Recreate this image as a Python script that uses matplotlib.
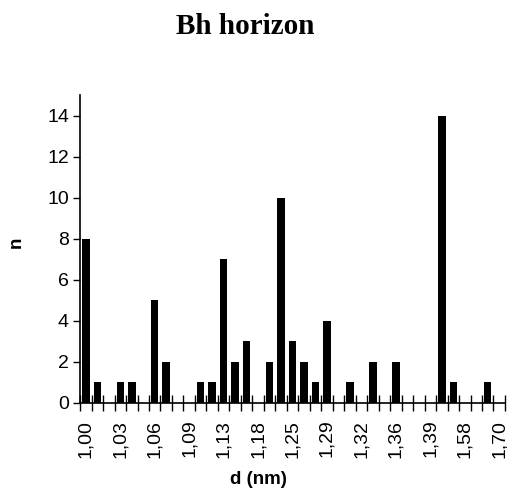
import matplotlib
matplotlib.use('Agg')
import matplotlib.pyplot as plt
import numpy as np

# contagem por classe de d (37 classes, rotulo a cada 3)
contagem = [8, 1, 0, 1, 1, 0, 5, 2, 0, 0, 1, 1, 7, 2, 3, 0, 2, 10, 3, 2,
            1, 4, 0, 1, 0, 2, 0, 2, 0, 0, 0, 14, 1, 0, 0, 1, 0]
rotulos = ['1,00', '1,03', '1,06', '1,09', '1,13', '1,18', '1,25',
           '1,29', '1,32', '1,36', '1,39', '1,58', '1,70']
passo_rotulo = 3

plt.rcParams['font.family'] = ['Liberation Sans', 'DejaVu Sans']

fig = plt.figure(figsize=(5.07, 4.9), dpi=100)
ax = fig.add_axes([0.158, 0.1776, 0.838, 0.628])

x = np.arange(len(contagem))
ax.bar(x, contagem, width=0.65, color='black')

ax.set_xlim(-0.5, len(contagem) - 0.5)
ax.set_ylim(0, 15)
ax.set_yticks(range(0, 15, 2))
ax.tick_params(axis='y', direction='out', length=5, width=1, labelsize=14, pad=3)

ax.set_xticks(x[::passo_rotulo])
ax.set_xticklabels(rotulos, rotation=90)
ax.set_xticks(np.arange(-0.5, len(contagem), 1), minor=True)
ax.tick_params(axis='x', which='major', length=0, labelsize=14, pad=12)
ax.tick_params(axis='x', which='minor', direction='inout', length=11, width=1)

for s in ['top', 'right']:
    ax.spines[s].set_visible(False)
for s in ['left', 'bottom']:
    ax.spines[s].set_linewidth(1.2)

fig.text(0.483, 0.945, 'Bh horizon', ha='center', va='center',
         fontsize=21, fontweight='bold', family='Liberation Serif')
fig.text(0.509, 0.022, 'd (nm)', ha='center', va='center',
         fontsize=13.5, fontweight='bold')
fig.text(0.033, 0.505, 'n', ha='center', va='center', rotation=90,
         fontsize=13.5, fontweight='bold')

plt.savefig('out.png', dpi=100)
